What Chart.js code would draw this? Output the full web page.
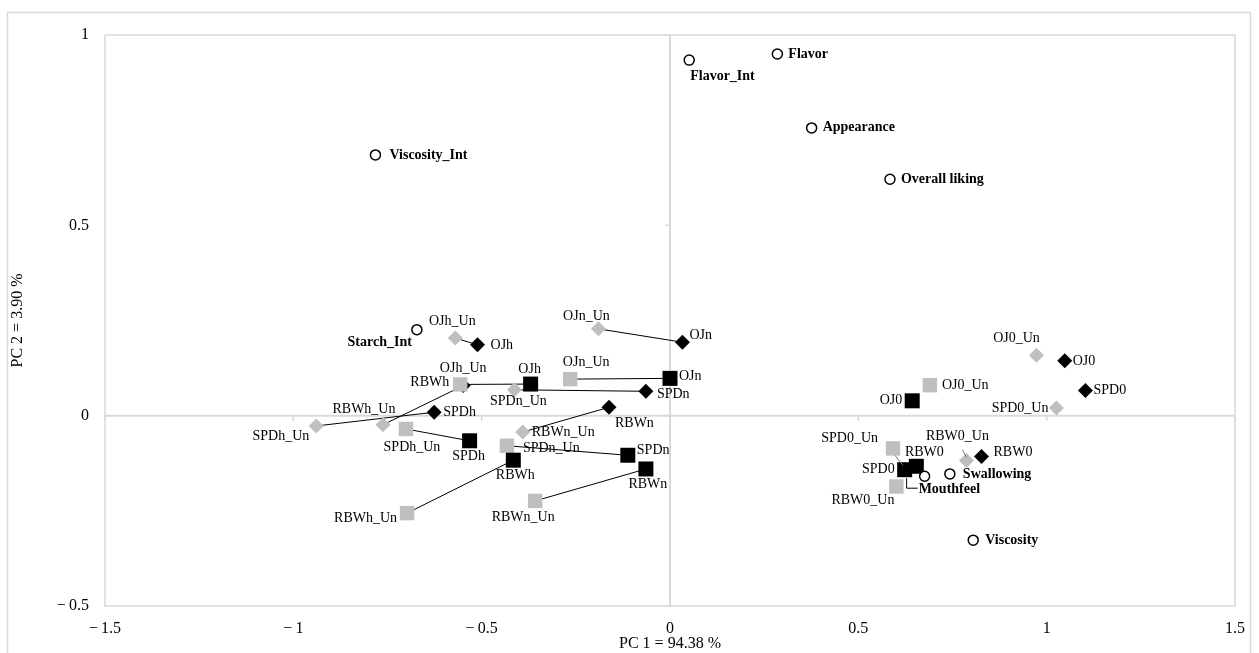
<!DOCTYPE html>
<html>
<head>
<meta charset="utf-8">
<script src="https://cdn.jsdelivr.net/npm/chart.js@4.4.1/dist/chart.umd.min.js"></script>
<style>
  html, body { margin: 0; padding: 0; background: #fff; }
</style>
</head>
<body>
<canvas id="pca" width="1259" height="653"></canvas>
<script>
// sample scores (PC1, PC2)
const samples = ['OJh', 'SPDh', 'RBWh', 'OJn', 'SPDn', 'RBWn', 'OJ0', 'SPD0', 'RBW0'];
const diamondX = [-0.511, -0.626, -0.549, 0.033, -0.064, -0.162, 1.048, 1.103, 0.827];
const diamondY = [0.186, 0.009, 0.079, 0.193, 0.064, 0.022, 0.144, 0.066, -0.107];
const diamondUnX = [-0.570, -0.939, -0.762, -0.190, -0.413, -0.391, 0.973, 1.026, 0.787];
const diamondUnY = [0.204, -0.027, -0.024, 0.228, 0.068, -0.043, 0.159, 0.020, -0.118];
const squareX = [-0.370, -0.532, -0.416, 0.000, -0.112, -0.064, 0.643, 0.623, 0.654];
const squareY = [0.083, -0.066, -0.117, 0.098, -0.104, -0.140, 0.039, -0.142, -0.133];
const squareUnX = [-0.557, -0.701, -0.698, -0.265, -0.433, -0.358, 0.690, 0.592, 0.601];
const squareUnY = [0.082, -0.035, -0.256, 0.096, -0.079, -0.224, 0.080, -0.086, -0.186];
// pairs joined by a line (untreated -> treated)
const pairedSamples = ['OJh', 'SPDh', 'RBWh', 'OJn', 'SPDn', 'RBWn'];

// attribute loadings
const attributes = ['Flavor', 'Flavor_Int', 'Appearance', 'Overall liking', 'Viscosity_Int', 'Starch_Int', 'Mouthfeel', 'Swallowing', 'Viscosity'];
const attributeX = [0.285, 0.051, 0.376, 0.584, -0.782, -0.672, 0.676, 0.743, 0.805];
const attributeY = [0.950, 0.934, 0.756, 0.621, 0.685, 0.226, -0.159, -0.153, -0.327];

const xTicks = [-1.5, -1, -0.5, 0, 0.5, 1, 1.5];
const yTicks = [-0.5, 0, 0.5, 1];

// label placement: [dx, dy, align] in pixels from the marker
const place = {
  diamond: [[13, 0, 'left'], [9, 0, 'left'], [-14, -3, 'right'], [7, -7, 'left'], [11, 3, 'left'], [6, 16, 'left'], [8, 0, 'left'], [8, 0, 'left'], [12, -4, 'left']],
  diamondUn: [[-3, -17, 'center'], [-7, 10, 'right'], [-19, -15, 'center'], [-12, -13, 'center'], [4, 12, 'center'], [9, 0, 'left'], [-20, -17, 'center'], [-8, 0, 'right'], [-9, -24, 'center']],
  square: [[-1, -15, 'center'], [-1, 16, 'center'], [2, 15, 'center'], [9, -2, 'left'], [9, -5, 'left'], [2, 15, 'center'], [-10, 0, 'right'], [-10, 0, 'right'], [8, -14, 'center']],
  squareUn: [[3, -16, 'center'], [6, 18, 'center'], [-10, 5, 'right'], [16, -17, 'center'], [16, 3, 'left'], [-12, 16, 'center'], [12, 0, 'left'], [-15, -10, 'right'], [-2, 14, 'right']],
  attr: [[11, 0, 'left'], [1, 16, 'left'], [11, 0, 'left'], [11, 0, 'left'], [14, 0, 'left'], [-5, 13, 'right'], [-6, 13, 'left'], [13, 0, 'left'], [12, 0, 'left']]
};
// leader lines drawn by Excel for a few labels
const leaders = [
  { set: 'attr', i: 6, pts: [[-18, 2], [-18, 12], [-7, 12]] },
  { set: 'diamondUn', i: 8, pts: [[-4, -11], [0, -3]] },
  { set: 'squareUn', i: 7, pts: [[2, 7], [10, 17]] }
];

const GREY = '#bfbfbf';
const SERIF = "'Liberation Serif', 'Times New Roman', serif";

function pts(xs, ys) {
  return xs.map((x, i) => ({ x: x, y: ys[i] }));
}

function fmt(v) {
  return v < 0 ? '\u2212\u2009' + Math.abs(v) : String(v);
}

const lineSets = [];
pairedSamples.forEach(name => {
  const i = samples.indexOf(name);
  lineSets.push({
    data: [{ x: diamondUnX[i], y: diamondUnY[i] }, { x: diamondX[i], y: diamondY[i] }],
    showLine: true, borderColor: '#000', borderWidth: 1, pointRadius: 0, order: 10
  });
  lineSets.push({
    data: [{ x: squareUnX[i], y: squareUnY[i] }, { x: squareX[i], y: squareY[i] }],
    showLine: true, borderColor: '#000', borderWidth: 1, pointRadius: 0, order: 10
  });
});

// higher order is drawn first
const markerSets = [
  { key: 'diamondUn', data: pts(diamondUnX, diamondUnY), labels: samples.map(s => s + '_Un'),
    pointStyle: 'rectRot', pointRadius: 7.5, backgroundColor: GREY, borderColor: GREY, borderWidth: 0, order: 5 },
  { key: 'diamond', data: pts(diamondX, diamondY), labels: samples,
    pointStyle: 'rectRot', pointRadius: 7.5, backgroundColor: '#000', borderColor: '#000', borderWidth: 0, order: 4 },
  { key: 'squareUn', data: pts(squareUnX, squareUnY), labels: samples.map(s => s + '_Un'),
    pointStyle: 'rect', pointRadius: 10.2, backgroundColor: GREY, borderColor: GREY, borderWidth: 0, order: 3 },
  { key: 'square', data: pts(squareX, squareY), labels: samples,
    pointStyle: 'rect', pointRadius: 10.6, backgroundColor: '#000', borderColor: '#000', borderWidth: 0, order: 2 },
  { key: 'attr', data: pts(attributeX, attributeY), labels: attributes, bold: true,
    pointStyle: 'circle', pointRadius: 5, backgroundColor: '#fff', borderColor: '#000', borderWidth: 1.5, order: 1 }
];

const frame = {
  id: 'frame',
  beforeDraw: (chart) => {
    const { ctx, chartArea: a } = chart;
    ctx.save();
    ctx.fillStyle = '#fff';
    ctx.fillRect(0, 0, chart.width, chart.height);
    ctx.strokeStyle = '#d9d9d9';
    ctx.lineWidth = 1.5;
    ctx.strokeRect(7.5, 12.5, 1243, 660);
    ctx.strokeRect(a.left, a.top, a.right - a.left, a.bottom - a.top);
    // zero axes
    const x0 = chart.scales.x.getPixelForValue(0);
    const y0 = chart.scales.y.getPixelForValue(0);
    ctx.lineWidth = 2;
    ctx.beginPath();
    ctx.moveTo(x0, a.top); ctx.lineTo(x0, a.bottom);
    ctx.moveTo(a.left, y0); ctx.lineTo(a.right, y0);
    ctx.stroke();
    ctx.lineWidth = 1.5;
    ctx.beginPath();
    xTicks.forEach(v => {
      const px = chart.scales.x.getPixelForValue(v);
      ctx.moveTo(px, y0); ctx.lineTo(px, y0 + 5);
    });
    yTicks.forEach(v => {
      const py = chart.scales.y.getPixelForValue(v);
      ctx.moveTo(x0, py); ctx.lineTo(x0 - 5, py);
    });
    ctx.stroke();
    ctx.restore();
  },
  afterDatasetsDraw: (chart) => {
    const { ctx } = chart;
    ctx.save();
    ctx.fillStyle = '#000';
    ctx.textBaseline = 'middle';
    chart.data.datasets.forEach((ds, di) => {
      if (!ds.labels) return;
      const meta = chart.getDatasetMeta(di);
      ctx.font = (ds.bold ? 'bold ' : '') + '14px ' + SERIF;
      ds.labels.forEach((txt, i) => {
        const el = meta.data[i];
        const p = place[ds.key][i];
        ctx.textAlign = p[2];
        ctx.fillText(txt, el.x + p[0], el.y + p[1]);
      });
    });
    ctx.lineWidth = 1;
    leaders.forEach(l => {
      const di = chart.data.datasets.findIndex(d => d.key === l.set);
      const el = chart.getDatasetMeta(di).data[l.i];
      ctx.strokeStyle = l.set === 'attr' ? '#000' : '#777';
      ctx.beginPath();
      l.pts.forEach((q, k) => {
        if (k === 0) ctx.moveTo(el.x + q[0], el.y + q[1]);
        else ctx.lineTo(el.x + q[0], el.y + q[1]);
      });
      ctx.stroke();
    });
    ctx.restore();
  }
};

new Chart(document.getElementById('pca'), {
  type: 'scatter',
  data: { datasets: lineSets.concat(markerSets) },
  options: {
    responsive: false,
    animation: false,
    devicePixelRatio: 1,
    layout: { padding: { left: 0, top: 35, right: 24, bottom: 0 } },
    plugins: { legend: { display: false }, tooltip: { enabled: false } },
    scales: {
      x: {
        type: 'linear', min: -1.5, max: 1.5,
        afterBuildTicks: (s) => { s.ticks = xTicks.map(v => ({ value: v })); },
        afterFit: (s) => { s.height = 47; },
        grid: { display: false, drawTicks: false },
        border: { display: false },
        ticks: { padding: 13, color: '#000', font: { family: SERIF, size: 16 }, callback: fmt, maxRotation: 0 },
        title: { display: true, text: 'PC 1 = 94.38 %', color: '#000', font: { family: SERIF, size: 16 }, padding: { top: 0, bottom: 0 } }
      },
      y: {
        type: 'linear', min: -0.5, max: 1,
        afterBuildTicks: (s) => { s.ticks = yTicks.map(v => ({ value: v })); },
        afterFit: (s) => { s.width = 105; },
        grid: { display: false, drawTicks: false },
        border: { display: false },
        ticks: { padding: 16, color: '#000', font: { family: SERIF, size: 16 }, callback: fmt },
        title: { display: true, text: 'PC 2 = 3.90 %', color: '#000', font: { family: SERIF, size: 16 }, padding: { top: 8, bottom: 0 } }
      }
    }
  },
  plugins: [frame]
});
</script>
</body>
</html>
